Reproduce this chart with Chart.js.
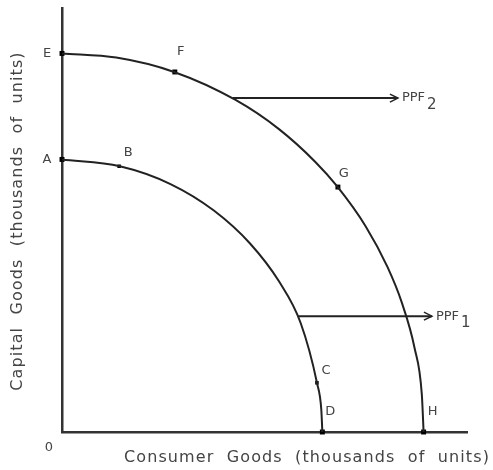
<!DOCTYPE html>
<html>
<head>
<meta charset="utf-8">
<script src="https://cdn.jsdelivr.net/npm/chart.js@4"></script>
<style>
  html, body { margin: 0; padding: 0; background: #fff; }
  #wrap { width: 493px; height: 470px; }
</style>
</head>
<body>
<div id="wrap"><canvas id="ppf"></canvas></div>
<script>
// curve points (thousands of units)
const ppf2X = [0, 1.5, 3.1, 4.8, 6.0, 7.0, 7.6, 8.4, 9.0, 9.4, 9.75, 9.95, 10];
const ppf2Y = [10, 9.89, 9.51, 8.77, 8.0, 7.14, 6.5, 5.43, 4.36, 3.41, 2.22, 1.0, 0];
const ppf1X = [0, 1.6, 3.0, 4.2, 5.2, 6.0, 6.6, 7.05, 7.17, 7.2];
const ppf1Y = [7.2, 7.02, 6.55, 5.85, 4.98, 3.98, 2.88, 1.3, 0.6, 0];

// labelled points
const pointNames = ['E', 'F', 'G', 'H', 'A', 'B', 'C', 'D'];
const pointX = [0, 3.12, 7.63, 10, 0, 1.58, 7.05, 7.2];
const pointY = [10, 9.51, 6.47, 0, 7.2, 7.02, 1.3, 0];

// arrows pointing at the curve names
const arrowNames = ['PPF|2', 'PPF|1'];
const arrowStartX = [4.72, 6.53];
const arrowEndX = [9.29, 10.23];
const arrowY = [8.82, 3.06];

const xTitle = 'Consumer Goods (thousands of units)';
const yTitle = 'Capital Goods (thousands of units)';

const xMax = 11.2;
const yMax = 11.2;

const ink = '#222';
const textColor = '#444';

function toXY(xs, ys) {
    return xs.map((x, i) => ({ x: x, y: ys[i] }));
}

// where the point letters sit relative to their point
const nameOffsets = {
    E: [-15, 0], A: [-15, 0], F: [6, -20], B: [9, -14],
    G: [6, -13], C: [9, -12], D: [8, -20], H: [9, -20]
};

const annotations = {
    id: 'annotations',
    afterDatasetsDraw(chart) {
        const ctx = chart.ctx;
        const xs = chart.scales.x;
        const ys = chart.scales.y;
        ctx.save();
        ctx.fillStyle = textColor;
        ctx.textBaseline = 'middle';
        ctx.textAlign = 'center';

        // point letters
        ctx.font = '13px "DejaVu Sans", sans-serif';
        pointNames.forEach((name, i) => {
            const off = nameOffsets[name];
            ctx.fillText(name, xs.getPixelForValue(pointX[i]) + off[0], ys.getPixelForValue(pointY[i]) + off[1]);
        });

        // origin
        ctx.fillText('0', xs.left - 13, ys.bottom + 16);

        // arrows + curve names
        ctx.strokeStyle = ink;
        ctx.lineWidth = 1.5;
        arrowNames.forEach((label, i) => {
            const ex = xs.getPixelForValue(arrowEndX[i]);
            const ey = ys.getPixelForValue(arrowY[i]);
            ctx.beginPath();
            ctx.moveTo(ex - 8, ey - 4);
            ctx.lineTo(ex, ey);
            ctx.lineTo(ex - 8, ey + 4);
            ctx.stroke();
            const parts = label.split('|');
            ctx.textAlign = 'left';
            ctx.font = '13px "DejaVu Sans", sans-serif';
            ctx.fillText(parts[0], ex + 4, ey);
            const w = ctx.measureText(parts[0]).width;
            ctx.font = '15px "DejaVu Sans", sans-serif';
            ctx.fillText(parts[1], ex + 6 + w, ey + 7);
        });

        // axis titles
        ctx.font = '16px "DejaVu Sans", sans-serif';
        ctx.letterSpacing = '1.1px';
        ctx.textAlign = 'center';
        ctx.fillStyle = '#444';
        ctx.fillText(xTitle.replace(/ /g, '  '), 307, ys.bottom + 26);
        ctx.translate(18, 221);
        ctx.rotate(-Math.PI / 2);
        ctx.fillText(yTitle.replace(/ /g, '  '), 0, 0);
        ctx.restore();
    }
};

new Chart(document.getElementById('ppf'), {
    type: 'scatter',
    data: {
        datasets: [
            {
                label: 'PPF2',
                data: toXY(ppf2X, ppf2Y),
                showLine: true,
                borderColor: ink,
                borderWidth: 2,
                pointRadius: 0,
                cubicInterpolationMode: 'monotone'
            },
            {
                label: 'PPF1',
                data: toXY(ppf1X, ppf1Y),
                showLine: true,
                borderColor: ink,
                borderWidth: 2,
                pointRadius: 0,
                cubicInterpolationMode: 'monotone'
            },
            {
                label: 'arrow2',
                data: [{ x: arrowStartX[0], y: arrowY[0] }, { x: arrowEndX[0], y: arrowY[0] }],
                showLine: true,
                borderColor: ink,
                borderWidth: 2,
                pointRadius: 0
            },
            {
                label: 'arrow1',
                data: [{ x: arrowStartX[1], y: arrowY[1] }, { x: arrowEndX[1], y: arrowY[1] }],
                showLine: true,
                borderColor: ink,
                borderWidth: 2,
                pointRadius: 0
            },
            {
                label: 'points',
                data: toXY(pointX, pointY),
                pointStyle: 'rect',
                pointRadius: pointNames.map(n => (n === 'B' || n === 'C') ? 2.5 : 3.5),
                backgroundColor: '#000',
                borderColor: '#000',
                borderWidth: 0
            }
        ]
    },
    options: {
        responsive: true,
        maintainAspectRatio: false,
        animation: false,
        clip: false,
        layout: { padding: { left: 62, top: 8, right: 26, bottom: 38 } },
        plugins: {
            legend: { display: false },
            tooltip: { enabled: false }
        },
        scales: {
            x: {
                type: 'linear',
                min: 0,
                max: xMax,
                grid: { display: false, drawTicks: false },
                ticks: { display: false },
                border: { display: true, color: '#333', width: 2.5 }
            },
            y: {
                type: 'linear',
                min: 0,
                max: yMax,
                grid: { display: false, drawTicks: false },
                ticks: { display: false },
                border: { display: true, color: '#333', width: 2.5 }
            }
        }
    },
    plugins: [annotations]
});
</script>
</body>
</html>
